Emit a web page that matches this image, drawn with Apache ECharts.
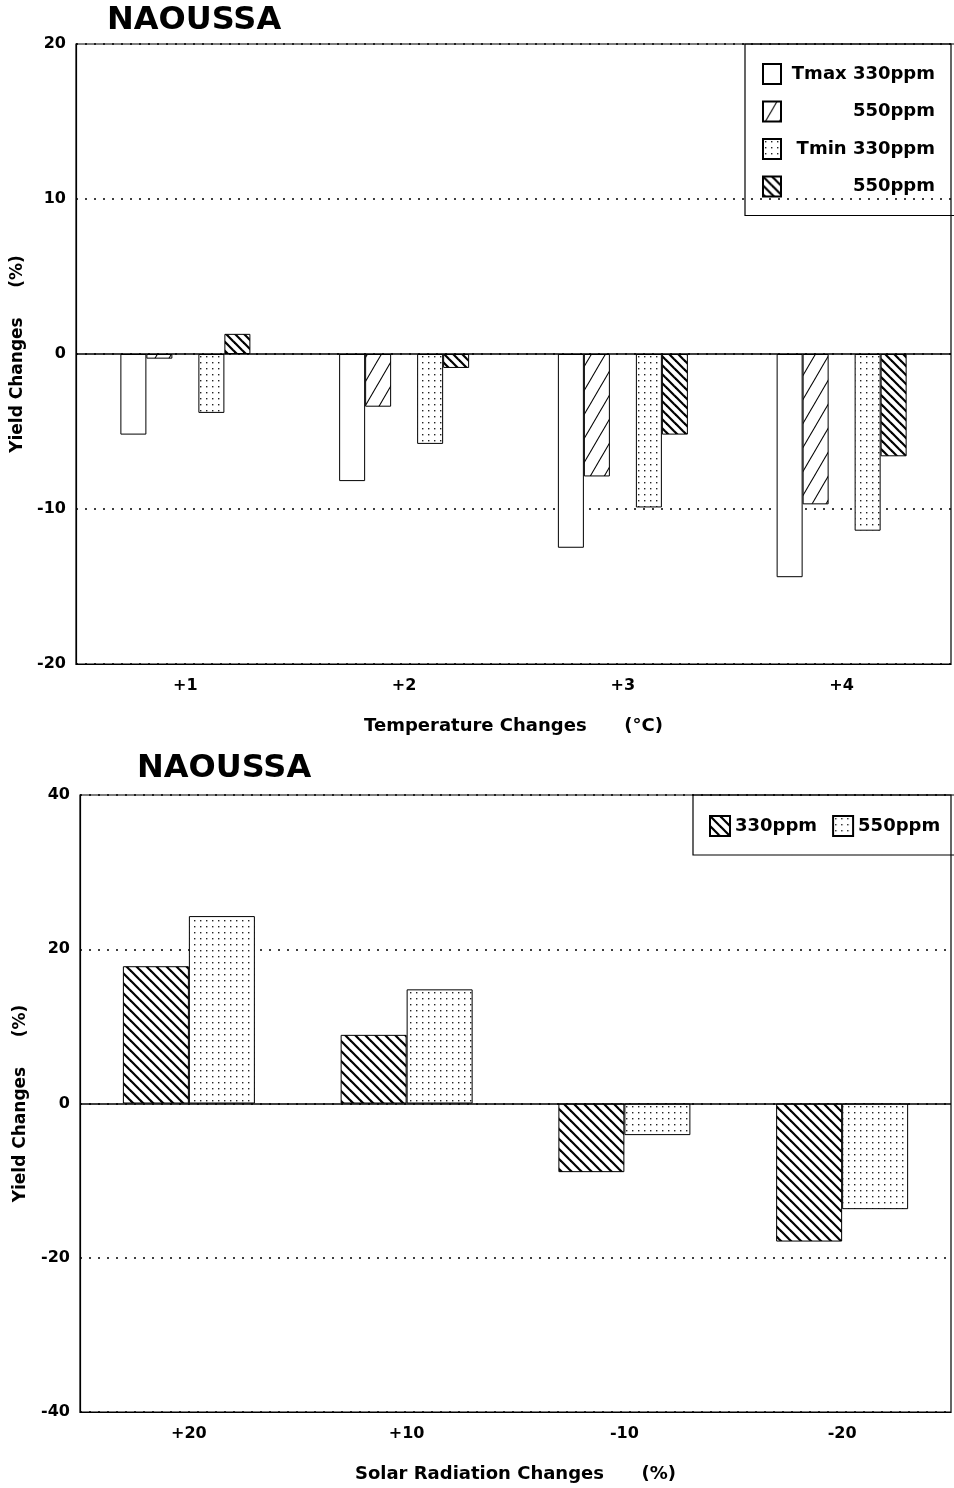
<!DOCTYPE html>
<html>
<head>
<meta charset="utf-8">
<script src="https://cdn.jsdelivr.net/npm/echarts@6/dist/echarts.min.js"></script>
<style>
  html, body { margin: 0; padding: 0; background: #fff; }
  #main { width: 954px; height: 1488px; }
</style>
</head>
<body>
<div id="main"></div>
<script>
// top chart: temperature changes
var tempCats = ['+1', '+2', '+3', '+4'];
var tmax330 = [-5.2, -8.2, -12.5, -14.4];
var tmax550 = [-0.3, -3.4, -7.9, -9.7];
var tmin330 = [-3.8, -5.8, -9.9, -11.4];
var tmin550 = [1.3, -0.9, -5.2, -6.6];

// bottom chart: solar radiation changes
var solarCats = ['+20', '+10', '-10', '-20'];
var solar330 = [17.8, 8.9, -8.9, -17.9];
var solar550 = [24.3, 14.8, -4.1, -13.7];

var FONT = 'DejaVu Sans';

// hatch tile, dir 1 = "/" , dir -1 = "\"
function hatch(w, h, lw, dir) {
    var c = document.createElement('canvas');
    c.width = w; c.height = h;
    var g = c.getContext('2d');
    g.fillStyle = '#fff';
    g.fillRect(0, 0, w, h);
    g.strokeStyle = '#000';
    g.lineWidth = lw;
    for (var k = -1; k <= 1; k++) {
        g.beginPath();
        if (dir > 0) {
            g.moveTo(k * w - w, 2 * h);
            g.lineTo(k * w + 2 * w, -h);
        } else {
            g.moveTo(k * w - w, -h);
            g.lineTo(k * w + 2 * w, 2 * h);
        }
        g.stroke();
    }
    return { image: c, repeat: 'repeat' };
}

function dots(w, h) {
    var c = document.createElement('canvas');
    c.width = w; c.height = h;
    var g = c.getContext('2d');
    g.fillStyle = '#fff';
    g.fillRect(0, 0, w, h);
    g.fillStyle = '#222';
    g.fillRect(2, 2, 1.4, 1.4);
    return { image: c, repeat: 'repeat' };
}

var slashThin = hatch(14, 24, 1.1, 1);
var backThick = hatch(9, 9, 2.2, -1);
var backBottom = hatch(10, 10, 2.2, -1);
var dotFill = dots(6, 6);

var legendNames = {
    'Tmax 330ppm': 'Tmax 330ppm',
    'Tmax 550ppm': '550ppm',
    'Tmin 330ppm': 'Tmin 330ppm',
    'Tmin 550ppm': '550ppm'
};

function barStyle(fill) {
    return { color: fill, borderColor: '#000', borderWidth: 1 };
}

var zeroLine = {
    silent: true,
    symbol: ['none', 'none'],
    label: { show: false },
    lineStyle: { color: '#000', width: 1.5, type: 'solid' },
    data: [{ yAxis: 0 }]
};

function yAxisOf(idx, min, max, step, gap) {
    return {
        type: 'value', gridIndex: idx, min: min, max: max, interval: step,
        name: 'Yield Changes     (%)', nameLocation: 'middle', nameGap: gap,
        nameTextStyle: { fontFamily: FONT, fontWeight: 'bold', fontSize: 17, color: '#000' },
        axisLine: { show: true, lineStyle: { color: '#000', width: 1.2 } },
        axisTick: { show: false },
        axisLabel: { margin: 10, fontFamily: FONT, fontWeight: 'bold', fontSize: 16, color: '#000' },
        splitLine: { show: true, lineStyle: { color: '#000', width: 1.5, type: [2, 7] } }
    };
}

function xAxisOf(idx, cats, name) {
    return {
        type: 'category', gridIndex: idx, data: cats,
        name: name, nameLocation: 'middle', nameGap: 53,
        nameTextStyle: { fontFamily: FONT, fontWeight: 'bold', fontSize: 18, color: '#000' },
        axisLine: { onZero: false, lineStyle: { color: '#000', width: 1.2 } },
        axisTick: { show: false },
        axisLabel: { margin: 14, fontFamily: FONT, fontWeight: 'bold', fontSize: 16, color: '#000' }
    };
}

var myChart = echarts.init(document.getElementById('main'), null, { renderer: 'canvas' });

var option = {
    animation: false,
    backgroundColor: '#fff',
    textStyle: { fontFamily: FONT },
    title: [
        { text: 'NAOUSSA', left: 107, top: 5, padding: 0,
          textStyle: { fontFamily: FONT, fontWeight: 'bold', fontSize: 32, color: '#000' } },
        { text: 'NAOUSSA', left: 137, top: 753, padding: 0,
          textStyle: { fontFamily: FONT, fontWeight: 'bold', fontSize: 32, color: '#000' } }
    ],
    grid: [
        { left: 76, right: 3, top: 44, height: 620, show: true, borderColor: '#000', borderWidth: 1.2 },
        { left: 80, right: 3, top: 795, height: 617, show: true, borderColor: '#000', borderWidth: 1.2 }
    ],
    legend: [
        {
            data: ['Tmax 330ppm', 'Tmax 550ppm', 'Tmin 330ppm', 'Tmin 550ppm'],
            orient: 'vertical',
            left: 745, top: 44,
            padding: [19, 22, 18, 17],
            itemGap: 15.5,
            icon: 'rect',
            itemWidth: 18, itemHeight: 20,
            borderColor: '#000', borderWidth: 1.2,
            formatter: function (name) { return '{t|' + legendNames[name] + '}'; },
            textStyle: {
                rich: { t: { width: 149, align: 'right', lineHeight: 20, fontFamily: FONT, fontWeight: 'bold', fontSize: 18, color: '#000' } }
            }
        },
        {
            data: ['330ppm', '550ppm'],
            orient: 'horizontal',
            left: 693, top: 795,
            width: 250,
            padding: [20, 20, 18, 16],
            itemGap: 15,
            icon: 'rect',
            itemWidth: 20, itemHeight: 20,
            borderColor: '#000', borderWidth: 1.2,
            textStyle: { fontFamily: FONT, fontWeight: 'bold', fontSize: 18, color: '#000' }
        }
    ],
    xAxis: [
        xAxisOf(0, tempCats, 'Temperature Changes      (°C)'),
        xAxisOf(1, solarCats, 'Solar Radiation Changes      (%)')
    ],
    yAxis: [
        yAxisOf(0, -20, 20, 10, 49),
        yAxisOf(1, -40, 40, 20, 51)
    ],
    series: [
        { name: 'Tmax 330ppm', type: 'bar', xAxisIndex: 0, yAxisIndex: 0, barWidth: 26, barGap: 0,
          itemStyle: barStyle('#fff'), data: tmax330, markLine: zeroLine },
        { name: 'Tmax 550ppm', type: 'bar', xAxisIndex: 0, yAxisIndex: 0, barWidth: 26, barGap: 0,
          itemStyle: barStyle(slashThin), data: tmax550 },
        // empty slot between the two pairs
        { name: 'gap', type: 'bar', xAxisIndex: 0, yAxisIndex: 0, barWidth: 26, barGap: 0,
          itemStyle: barStyle('#fff'), data: ['-', '-', '-', '-'] },
        { name: 'Tmin 330ppm', type: 'bar', xAxisIndex: 0, yAxisIndex: 0, barWidth: 26, barGap: 0,
          itemStyle: barStyle(dotFill), data: tmin330 },
        { name: 'Tmin 550ppm', type: 'bar', xAxisIndex: 0, yAxisIndex: 0, barWidth: 26, barGap: 0,
          itemStyle: barStyle(backThick), data: tmin550 },

        { name: '330ppm', type: 'bar', xAxisIndex: 1, yAxisIndex: 1, barWidth: 66, barGap: 0,
          itemStyle: barStyle(backBottom), data: solar330, markLine: zeroLine },
        { name: '550ppm', type: 'bar', xAxisIndex: 1, yAxisIndex: 1, barWidth: 66, barGap: 0,
          itemStyle: barStyle(dotFill), data: solar550 }
    ]
};

myChart.setOption(option);
</script>
</body>
</html>
